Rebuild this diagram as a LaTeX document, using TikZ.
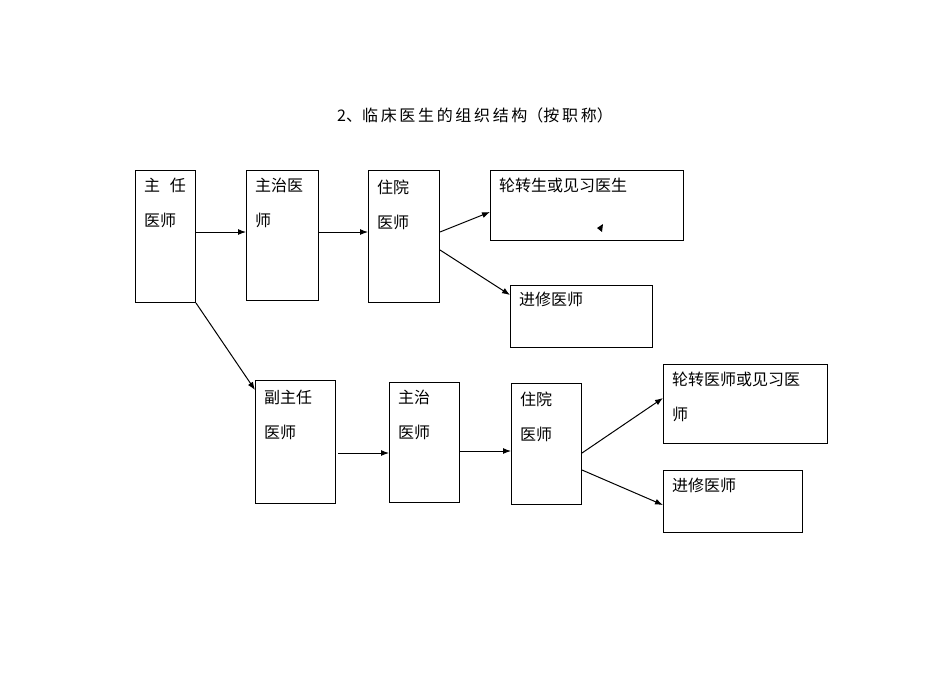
\documentclass[tikz,border=0pt]{standalone}
\usepackage{fontspec}
\newfontfamily\cjk{Noto Sans CJK SC}
\usetikzlibrary{calc,arrows.meta}
\begin{document}
\begin{tikzpicture}[x=1pt,y=-1pt,
  box/.style={draw,line width=1pt,inner sep=0pt,anchor=north west},
  txt/.style={anchor=north west,inner sep=0pt,font=\cjk\fontsize{16}{35}\selectfont,align=left},
  arr/.style={-{Latex[length=8pt,width=6pt]},line width=1pt}]
\useasboundingbox (0,0) rectangle (950,672);
\node[anchor=center,inner sep=0pt,font=\cjk\fontsize{16}{18}\selectfont] (title) at (475,115) {2、临\,床\,医\,生\,的\,组\,织\,结\,构（按\,职\,称）};
\newcommand\bx[5]{\node[box,minimum width=#4-#2,minimum height=#5-#3] (#1) at (#2,#3) {};}
\bx{A}{135}{170}{195}{302}
\bx{B}{246}{170}{318}{300}
\bx{C}{368}{170}{439}{302}
\bx{D}{490}{170}{683}{240}
\bx{E}{510}{285}{652}{347}
\bx{F}{255}{380}{335}{503}
\bx{G}{389}{382}{459}{502}
\bx{H}{511}{383}{581}{504}
\bx{I}{663}{364}{827}{443}
\bx{J}{663}{470}{802}{532}
\node[txt] (tA) at (144,178) {主\hspace{0.6em}任\\医师};
\node[txt] (tB) at (255,178) {主治医\\师};
\node[txt] (tC) at (377,180) {住院\\医师};
\node[txt] (tD) at (499,178) {轮转生或见习医生};
\node[txt] (tE) at (519,292) {进修医师};
\node[txt] (tF) at (264,390) {副主任\\医师};
\node[txt] (tG) at (398,390) {主治\\医师};
\node[txt] (tH) at (520,392) {住院\\医师};
\node[txt] (tI) at (672,372) {轮转医师或见习医\\师};
\node[txt] (tJ) at (672,478) {进修医师};
\fill (597,228) -- (603,224) -- (602,232) -- cycle;
\draw[arr] ($(A.north east)+(0,62)$) -- ($(B.north west)+(0,62)$);
\draw[arr] ($(B.north east)+(0,62)$) -- ($(C.north west)+(0,62)$);
\draw[arr] ($(C.north east)+(0,62)$) -- ($(D.north west)+(0,42)$);
\draw[arr] ($(C.north east)+(0,80)$) -- ($(E.north west)+(0,10)$);
\draw[arr] (A.south east) -- ($(F.north west)+(0,10)$);
\draw[arr] ($(F.north east)+(2,73)$) -- ($(G.north west)+(0,71)$);
\draw[arr] ($(G.north east)+(0,69)$) -- ($(H.north west)+(0,68)$);
\draw[arr] ($(H.north east)+(0,70)$) -- ($(I.north west)+(0,34)$);
\draw[arr] ($(H.north east)+(0,87)$) -- ($(J.north west)+(0,35)$);
\end{tikzpicture}
\end{document}
